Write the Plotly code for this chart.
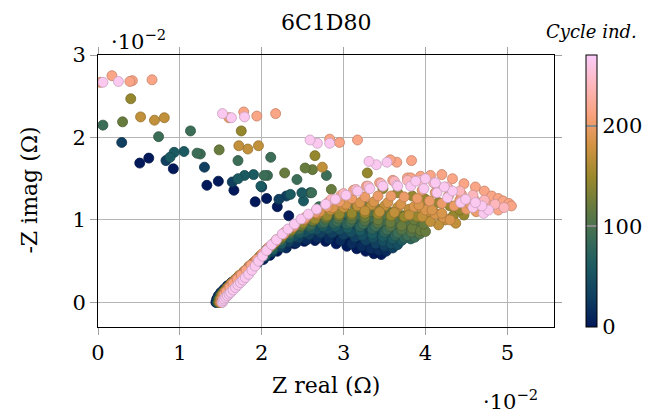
import numpy as np
import plotly.graph_objects as go

# Impedance values are given in units of 1e-2 Ohm (axis multiplier "·10^-2")
UNIT = 1e-2

cycles = [0, 15, 30, 45, 60, 75, 90, 105, 120, 145, 170, 185, 200, 215, 240, 265]

re_c0 = [1.44,1.45,1.47,1.50,1.54,1.58,1.63,1.68,1.74,1.80,1.87,1.94,2.02,2.10,2.19,2.29,
         2.40,2.52,2.65,2.78,2.91,3.04,3.16,3.27,3.37,3.46,
         3.50,3.41,3.30,3.17,3.03,2.88,2.73,2.58,2.45,2.33,
         2.19,2.06,1.92,1.66,1.47,1.33,0.92,0.62,0.51]
im_c0 = [0.00,0.04,0.08,0.12,0.16,0.20,0.24,0.28,0.32,0.37,0.42,0.47,0.52,0.57,0.62,0.67,
         0.71,0.74,0.75,0.74,0.71,0.68,0.65,0.62,0.59,0.58,
         0.63,0.68,0.72,0.76,0.79,0.82,0.85,0.89,0.93,1.05,
         1.16,1.26,1.22,1.36,1.47,1.42,1.62,1.75,1.69]

re_c15 = [2.30,2.42,2.55,2.68,2.82,2.96,3.10,3.22,3.33,3.43,3.52,
          3.46,3.35,3.22,3.08,2.93,2.78,2.62,2.48]
im_c15 = [0.66,0.72,0.76,0.78,0.77,0.75,0.71,0.68,0.65,0.63,0.62,
          0.70,0.74,0.79,0.83,0.86,0.89,0.93,0.97]

re_c30 = [1.45,1.46,1.48,1.51,1.55,1.60,1.65,1.70,1.76,1.82,1.89,1.96,2.04,2.13,2.23,2.33,
          2.45,2.58,2.72,2.86,3.00,3.14,3.27,3.39,3.50,3.60,
          3.62,3.52,3.40,3.26,3.11,2.95,2.80,2.65,
          2.30,2.21,2.00,1.64,1.30,0.83,0.29]
im_c30 = [0.00,0.04,0.08,0.12,0.16,0.20,0.24,0.28,0.33,0.38,0.43,0.49,0.55,0.61,0.67,0.73,
          0.78,0.82,0.84,0.84,0.82,0.79,0.75,0.71,0.68,0.66,
          0.72,0.77,0.81,0.85,0.88,0.91,0.94,0.98,
          1.29,1.25,1.40,1.46,1.64,1.72,1.94]

re_c45 = [2.40,2.53,2.67,2.81,2.95,3.09,3.23,3.36,3.48,3.58,3.66,
          3.60,3.47,3.33,3.18,3.02,2.86,2.70]
im_c45 = [0.80,0.85,0.88,0.89,0.88,0.85,0.81,0.78,0.74,0.71,0.70,
          0.79,0.84,0.88,0.92,0.95,0.98,1.02]

re_c60 = [1.46,1.47,1.49,1.52,1.56,1.61,1.66,1.71,1.77,1.83,1.90,1.97,2.05,2.14,2.24,2.34,
          2.46,2.60,2.75,2.90,3.05,3.20,3.35,3.48,3.60,3.71,
          3.72,3.62,3.50,3.36,3.21,3.05,2.89,2.74,
          2.59,2.51,2.49,2.35,1.99,1.90,1.79,1.71,1.05,0.93,0.88]
im_c60 = [0.00,0.04,0.08,0.12,0.16,0.21,0.25,0.29,0.34,0.39,0.45,0.51,0.57,0.64,0.71,0.78,
          0.84,0.89,0.92,0.92,0.90,0.87,0.83,0.80,0.77,0.75,
          0.81,0.86,0.90,0.94,0.97,1.00,1.03,1.07,
          1.33,1.23,1.33,1.31,1.41,1.55,1.54,1.50,1.83,1.82,1.76]

re_c75 = [2.44,2.58,2.73,2.88,3.04,3.20,3.35,3.50,3.63,3.74,3.82,
          3.78,3.66,3.52,3.37,3.21,3.05,2.88]
im_c75 = [0.87,0.92,0.96,0.96,0.95,0.92,0.89,0.85,0.81,0.78,0.77,
          0.85,0.90,0.95,0.99,1.03,1.06,1.10]

re_c90 = [1.47,1.48,1.50,1.53,1.57,1.61,1.66,1.71,1.77,1.83,1.89,1.96,2.04,2.13,2.23,2.34,
          2.46,2.60,2.76,2.92,3.08,3.24,3.39,3.53,3.66,3.78,3.87,
          3.86,3.75,3.62,3.48,3.33,3.18,3.02,2.86,2.70,
          2.61,2.79,2.43,2.11,2.07,2.03,1.71,1.25,1.21,1.13,0.74,0.06]
im_c90 = [0.00,0.04,0.08,0.12,0.17,0.21,0.26,0.30,0.35,0.41,0.47,0.53,0.60,0.67,0.75,0.83,
          0.89,0.94,0.97,0.98,0.97,0.95,0.92,0.88,0.84,0.81,0.79,
          0.86,0.91,0.95,0.99,1.03,1.06,1.09,1.12,1.16,
          1.33,1.54,1.49,1.76,1.54,1.54,1.72,1.80,1.81,2.08,2.01,2.15]

re_c105 = [2.47,2.62,2.78,2.94,3.10,3.26,3.42,3.57,3.71,3.83,3.93,
           3.90,3.78,3.64,3.49,3.33,3.17]
im_c105 = [0.92,0.98,1.01,1.02,1.01,0.99,0.96,0.92,0.88,0.85,0.83,
           0.92,0.97,1.02,1.06,1.10,1.14]

re_c120 = [1.48,1.49,1.51,1.54,1.58,1.62,1.67,1.72,1.78,1.84,1.90,1.97,2.05,2.14,2.24,2.35,
           2.48,2.62,2.78,2.94,3.10,3.26,3.42,3.57,3.71,3.84,3.94,4.00,
           3.98,3.86,3.72,3.57,3.41,3.25,3.10,2.96,
           2.85,2.62,2.53,2.28,1.48,0.30]
im_c120 = [0.00,0.04,0.08,0.13,0.17,0.22,0.26,0.31,0.36,0.42,0.48,0.55,0.62,0.70,0.78,0.86,
           0.93,0.99,1.03,1.05,1.05,1.03,1.00,0.97,0.93,0.90,0.87,0.86,
           0.95,1.00,1.05,1.09,1.13,1.17,1.21,1.26,
           1.37,1.61,1.63,1.57,1.85,2.19]

re_c145 = [1.48,1.49,1.51,1.54,1.58,1.62,1.67,1.72,1.78,1.84,1.91,1.98,2.06,2.15,2.25,2.36,
           2.50,2.65,2.80,2.95,3.10,3.26,3.42,3.58,3.74,3.90,4.05,4.20,4.34,4.47,
           4.42,4.30,4.16,4.00,3.84,3.66,3.48,
           3.29,2.65,1.75,0.40]
im_c145 = [0.00,0.04,0.09,0.13,0.18,0.22,0.27,0.32,0.37,0.43,0.49,0.56,0.64,0.72,0.80,0.88,
           0.96,1.01,1.05,1.07,1.08,1.08,1.07,1.05,1.04,1.04,1.04,1.04,1.05,1.06,
           1.12,1.17,1.21,1.25,1.29,1.33,1.38,
           1.57,1.78,2.08,2.47]

re_c170 = [1.49,1.50,1.52,1.55,1.59,1.63,1.68,1.73,1.79,1.85,1.92,1.99,2.07,2.16,2.26,2.38,
           2.52,2.68,2.84,3.00,3.17,3.34,3.50,3.66,3.80,3.94,4.04,4.12,4.24,4.37,
           4.16,4.06,3.96,3.80,3.62,3.44,3.26,
           2.74,1.96,1.83,1.72,0.81,0.69,0.52]
im_c170 = [0.00,0.04,0.09,0.13,0.18,0.23,0.28,0.33,0.38,0.44,0.50,0.57,0.65,0.73,0.82,0.91,
           1.00,1.07,1.12,1.15,1.17,1.18,1.17,1.15,1.13,1.15,1.10,1.08,1.00,0.96,
           0.94,0.98,1.04,1.06,1.09,1.10,1.11,
           1.64,1.90,1.86,1.90,2.24,2.21,2.25]

re_c185 = [2.55,2.71,2.87,3.03,3.20,3.37,3.54,3.70,3.86,4.00,4.12,4.22,4.30,
           4.20,4.08,3.92]
im_c185 = [1.04,1.10,1.15,1.19,1.21,1.22,1.21,1.19,1.16,1.12,1.07,1.03,1.00,
           1.08,1.12,1.18]

re_c200 = [1.50,1.51,1.53,1.56,1.60,1.64,1.69,1.74,1.80,1.86,1.93,2.00,2.08,2.17,2.27,2.39,2.52,2.66,
           2.80,2.95,3.10,3.26,3.42,3.58,3.74,3.90,4.05,4.20,4.35,4.50,4.62,
           4.55,4.42,4.28,4.12,3.96,
           1.60,0.03]
im_c200 = [0.00,0.04,0.09,0.13,0.18,0.23,0.28,0.33,0.39,0.45,0.51,0.58,0.66,0.74,0.83,0.92,1.01,1.09,
           1.16,1.22,1.26,1.28,1.29,1.29,1.28,1.26,1.23,1.20,1.17,1.13,1.10,
           1.18,1.24,1.29,1.33,1.36,
           2.24,2.67]

re_c215 = [1.51,1.52,1.54,1.57,1.61,1.65,1.70,1.75,1.81,1.87,1.94,2.01,2.09,2.18,2.28,2.40,2.53,2.67,
           2.82,2.97,3.12,3.28,3.44,3.60,3.78,3.94,4.06,4.20,4.33,4.47,4.61,4.72,4.81,4.89,4.95,5.02,5.05,
           4.89,4.75,4.60,4.44,4.28,4.12,3.96,3.82,
           3.83,3.65,3.57,3.17,2.95,2.83,2.17,1.94,1.78,0.66,0.42,0.39,0.17]
im_c215 = [0.00,0.04,0.09,0.13,0.18,0.23,0.28,0.33,0.39,0.45,0.52,0.59,0.67,0.76,0.85,0.94,1.03,1.12,
           1.22,1.30,1.36,1.41,1.45,1.48,1.51,1.53,1.54,1.55,1.50,1.44,1.40,1.35,1.29,1.26,1.23,1.20,1.17,
           1.12,1.18,1.24,1.31,1.38,1.44,1.48,1.51,
           1.72,1.70,1.73,1.97,1.94,1.98,2.29,2.26,2.31,2.70,2.69,2.68,2.75]

re_c240 = [2.85,3.00,3.15,3.30,3.46,3.62,3.78,3.94,4.10,4.26,4.42,4.58,4.72,4.85,4.96]
im_c240 = [1.25,1.32,1.37,1.41,1.44,1.47,1.48,1.48,1.45,1.40,1.35,1.30,1.24,1.19,1.15]

re_c265 = [1.52,1.53,1.54,1.56,1.58,1.60,1.62,1.65,1.68,1.71,1.74,1.77,1.80,1.84,1.88,1.92,1.96,2.01,
           2.06,2.12,2.18,2.25,2.32,2.40,2.48,2.57,2.67,2.78,2.90,3.03,3.17,3.32,3.48,3.65,3.82,3.98,
           4.14,4.27,4.43,4.58,4.71,4.77,
           4.69,4.61,4.49,4.33,4.23,4.12,4.00,3.88,3.66,
           3.53,3.40,3.31,2.83,2.68,2.59,1.79,1.63,1.52,0.25,0.06]
im_c265 = [0.00,0.02,0.04,0.06,0.08,0.10,0.12,0.15,0.18,0.21,0.24,0.27,0.30,0.34,0.39,0.44,0.50,0.56,
           0.63,0.70,0.76,0.83,0.89,0.95,1.01,1.07,1.13,1.19,1.25,1.30,1.35,1.38,1.41,1.42,1.41,1.38,
           1.33,1.27,1.21,1.15,1.08,1.12,
           1.17,1.21,1.25,1.35,1.40,1.45,1.50,1.47,1.41,
           1.70,1.67,1.71,1.93,1.93,1.97,2.25,2.24,2.29,2.68,2.67]

series_re = [re_c0, re_c15, re_c30, re_c45, re_c60, re_c75, re_c90, re_c105, re_c120,
             re_c145, re_c170, re_c185, re_c200, re_c215, re_c240, re_c265]
series_im = [im_c0, im_c15, im_c30, im_c45, im_c60, im_c75, im_c90, im_c105, im_c120,
             im_c145, im_c170, im_c185, im_c200, im_c215, im_c240, im_c265]

x_ticks = [0, 1, 2, 3, 4, 5]
y_ticks = [0, 1, 2, 3]
cbar_ticks = [0, 100, 200]
CMIN, CMAX = 0, 270

# batlow colormap
BATLOW = ["#011959", "#103F60", "#1C5A62", "#3C6D56", "#687B3E",
          "#9D892B", "#D29343", "#F8A17B", "#FDB7BC", "#FACCFA"]
colorscale = [[i / (len(BATLOW) - 1), c] for i, c in enumerate(BATLOW)]


def hex2rgb(h):
    h = h.lstrip("#")
    return np.array([int(h[i:i + 2], 16) for i in (0, 2, 4)], dtype=float)


def cmap(v):
    t = min(max((v - CMIN) / (CMAX - CMIN), 0), 1) * (len(BATLOW) - 1)
    i = min(int(t), len(BATLOW) - 2)
    f = t - i
    return (1 - f) * hex2rgb(BATLOW[i]) + f * hex2rgb(BATLOW[i + 1])


xs, ys, cs, lines = [], [], [], []
for cyc, r, m in zip(cycles, series_re, series_im):
    for a, b in zip(r, m):
        xs.append(a * UNIT)
        ys.append(b * UNIT)
        cs.append(cyc)
        d = cmap(cyc) * 0.8
        lines.append("rgb(%d,%d,%d)" % tuple(d.astype(int)))

FONT = "DejaVu Serif"

# plot-area geometry in pixels (for placing annotations)
W, H = 666, 414
L, R, T, B = 98, 558, 55, 327


def px(xp):
    return (xp - L) / (R - L)


def py(yp):
    return (B - yp) / (B - T)


fig = go.Figure()
fig.add_trace(go.Scatter(
    x=xs, y=ys, mode="markers",
    marker=dict(size=10, color=cs, colorscale=colorscale, cmin=CMIN, cmax=CMAX,
                line=dict(color=lines, width=0.8),
                colorbar=dict(thickness=11, thicknessmode="pixels", len=1, lenmode="fraction",
                              x=px(590), xanchor="left", xpad=0, y=0.5, yanchor="middle", ypad=0,
                              outlinewidth=1, outlinecolor="black",
                              tickvals=cbar_ticks, ticks="inside", ticklen=11, tickwidth=1.5,
                              tickcolor="#8a8a8a",
                              tickfont=dict(family=FONT, size=21, color="black"))),
    showlegend=False, hoverinfo="skip"))

axis_common = dict(showgrid=True, gridcolor="#b5b5b5", gridwidth=1.2, zeroline=False,
                   showline=True, linecolor="black", linewidth=1, mirror="allticks",
                   ticks="outside", ticklen=7, tickwidth=1.2, tickcolor="#a0a0a0",
                   tickfont=dict(family=FONT, size=21, color="black"))

fig.update_xaxes(range=[0, 0.0557], tickvals=[t * UNIT for t in x_ticks],
                 ticktext=[str(t) for t in x_ticks], **axis_common)
fig.update_yaxes(range=[-0.00299, 0.03001], tickvals=[t * UNIT for t in y_ticks],
                 ticktext=[str(t) for t in y_ticks], **axis_common)

ann = [
    dict(text="6C1D80", x=0.5, y=py(22), size=22),
    dict(text="<i>Cycle ind.</i>", x=px(596), y=py(31), size=18),
    dict(text="·10<sup>−2</sup>", x=px(139), y=py(40), size=21),
    dict(text="·10<sup>−2</sup>", x=px(514), y=py(400), size=21),
    dict(text="Z real (Ω)", x=px(328), y=py(385), size=22),
]
for a in ann:
    fig.add_annotation(text=a["text"], x=a["x"], y=a["y"], xref="paper", yref="paper",
                       showarrow=False, xanchor="center", yanchor="middle",
                       font=dict(family=FONT, size=a["size"], color="black"))
fig.add_annotation(text="-Z imag (Ω)", x=px(28), y=py(190), xref="paper", yref="paper",
                   showarrow=False, textangle=-90, xanchor="center", yanchor="middle",
                   font=dict(family=FONT, size=22, color="black"))

fig.update_layout(width=W, height=H, margin=dict(l=L, r=W - R, t=T, b=H - B, pad=0),
                  plot_bgcolor="white", paper_bgcolor="white")

fig.write_html("out.html")
